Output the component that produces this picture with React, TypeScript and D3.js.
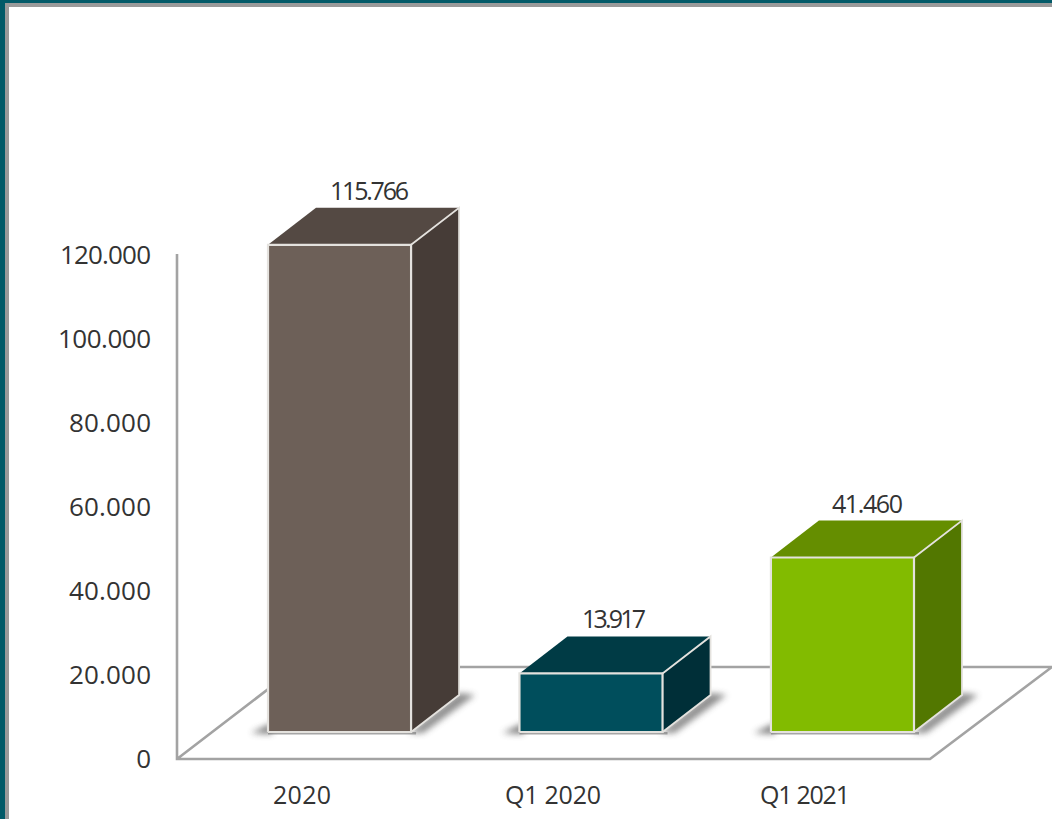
import React from "react";
import * as d3 from "d3";

const categories = ["2020", "Q1 2020", "Q1 2021"];
const values = [115766, 13917, 41460];
const valueLabels = ["115.766", "13.917", "41.460"];
const tickValues = [0, 20000, 40000, 60000, 80000, 100000, 120000];
const tickLabels = ["0", "20.000", "40.000", "60.000", "80.000", "100.000", "120.000"];
const frontColors = ["#6d6058", "#004e5c", "#82bb00"];
const topColors = ["#544943", "#003b45", "#658e00"];
const sideColors = ["#463c37", "#002f38", "#527700"];

const W = 1052, H = 819;
const DX = 48, DY = -37;
const FONT = "'Open Sans', sans-serif";
const tickWidth = [14, 82, 82, 82, 82, 93, 91];
const valueShift = [30, 23, 25];
const valueWidth = [79, 64, 71];
const categoryShift = [37.5, 38, 37.5];
const categoryWidth = [58, 96, 90];

export default function App() {
  const axisY = d3.scaleLinear().domain([0, 120000]).range([759, 254]);
  const base = 732;
  const h = (v: number) => axisY(0) - axisY(v);
  const x = d3.scaleBand<string>().domain(categories).range([268, 914]).paddingInner(0.431).paddingOuter(0);
  const line = d3.line();
  const poly = (pts: [number, number][]) => line(pts) + "Z";
  return (
    <svg width={W} height={H} viewBox={`0 0 ${W} ${H}`} style={{ position: "absolute", left: 0, top: 0, display: "block", background: "#fff" }}>
      <defs>
        <filter id="blur" x="-50%" y="-100%" width="200%" height="300%">
          <feGaussianBlur stdDeviation="3.2" />
        </filter>
        <filter id="soft" x="-5%" y="-5%" width="110%" height="110%">
          <feGaussianBlur stdDeviation="0.5" />
        </filter>
      </defs>
      {/* frame */}
      <rect x={0} y={0} width={W} height={H} fill="#025a68" />
      <rect x={5} y={3} width={W} height={H} fill="#9a9a9a" />
      <rect x={9} y={7} width={W} height={H} fill="#ffffff" />

      {/* floor and axis */}
      <g fill="none" stroke="#a3a3a3" strokeWidth={2.6} filter="url(#soft)">
        <path d={line([[177, axisY(120000)], [177, 759], [930, 759], [1052, 667], [297, 667], [177, 759]]) ?? ""} />
      </g>

      {/* tick labels */}
      <g fontFamily={FONT} fontSize={26} fill="#333" textAnchor="end">
        {tickValues.map((t, i) => (
          <text key={t} x={151} y={axisY(t) + 8.5 + (t / 120000)} textLength={tickWidth[i]} lengthAdjust="spacing">
            {tickLabels[i]}
          </text>
        ))}
      </g>

      {/* bars */}
      {categories.map((c, i) => {
        const x0 = x(c) as number;
        const bw = x.bandwidth();
        const x1 = x0 + bw;
        const top = base - h(values[i]);
        return (
          <g key={c}>
            <path d={poly([[x0 - 17, base + 1], [x0 + 4, base - 9], [x0 + 4, base + 2]])} fill="#4a4a4a" opacity={0.7} filter="url(#blur)" />
            <path d={poly([[x1 - 2, base + 1], [x1 + DX, base + DY - 2], [x1 + DX + 16, base + DY], [x1 + 12, base + 1]])} fill="#4a4a4a" opacity={0.62} filter="url(#blur)" />
            <path d={poly([[x0, base], [x1 + 5, base], [x1 + 5, base + 2.5], [x0, base + 2.5]])} fill="#777" opacity={0.65} filter="url(#soft)" />
            <path d={poly([[x0, top], [x0 + DX, top + DY], [x1 + DX, top + DY], [x1, top]])} fill={topColors[i]} />
            <path d={poly([[x1, top], [x1 + DX, top + DY], [x1 + DX, base + DY], [x1, base]])} fill={sideColors[i]} />
            <rect x={x0} y={top} width={bw} height={base - top} fill={frontColors[i]} />
            <path
              d={line([[x0, base], [x0, top], [x1, top], [x1, base], [x0, base]]) ?? ""}
              fill="none"
              stroke="#e4e2de"
              strokeWidth={2.2}
            />
            <path
              d={line([[x1, top], [x1 + DX, top + DY], [x1 + DX, base + DY], [x1, base]]) ?? ""}
              fill="none"
              stroke="#e4e2de"
              strokeWidth={1.8}
            />
            <text
              x={x0 + bw / 2 + valueShift[i]}
              y={top + DY - 8}
              textAnchor="middle"
              fontFamily={FONT}
              fontSize={25}
              fill="#333"
              textLength={valueWidth[i]}
              lengthAdjust="spacing"
            >
              {valueLabels[i]}
            </text>
          </g>
        );
      })}

      {/* category labels */}
      <g fontFamily={FONT} fontSize={25} fill="#333" textAnchor="middle">
        {categories.map((c, i) => (
          <text
            key={c}
            x={(x(c) as number) + x.bandwidth() / 2 - categoryShift[i]}
            y={804}
            textLength={categoryWidth[i]}
            lengthAdjust="spacing"
          >
            {c}
          </text>
        ))}
      </g>
    </svg>
  );
}
